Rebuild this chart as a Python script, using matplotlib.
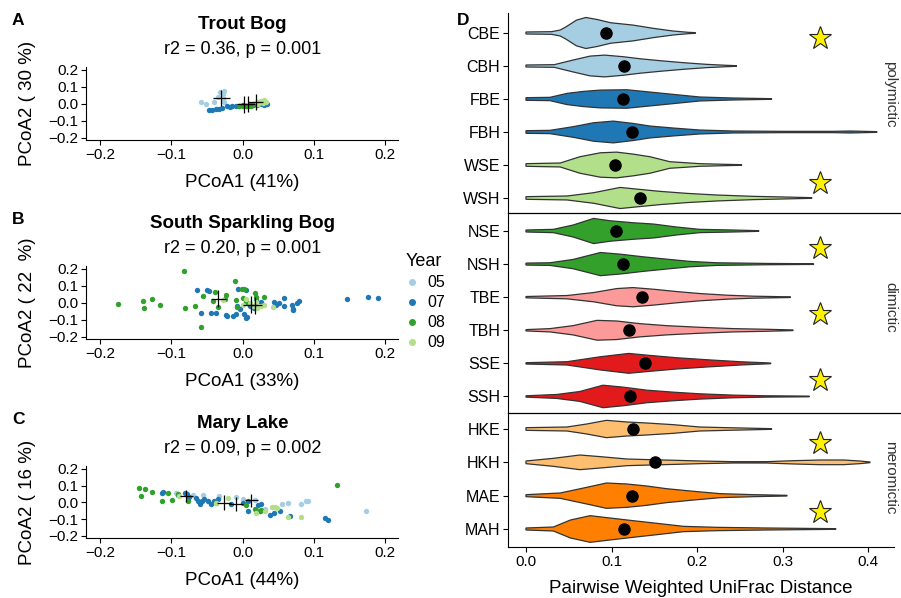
import numpy as np
import matplotlib
matplotlib.use('Agg')
import matplotlib.pyplot as plt
from matplotlib.lines import Line2D

plt.rcParams['font.family'] = ['Liberation Sans', 'DejaVu Sans']

W, H = 901, 598

# ---------------- PCoA data (panels A-C) ----------------
years = ['05', '07', '08', '09']
year_colors = ['#A6CEE3', '#1F78B4', '#33A02C', '#B2DF8A']

trout_05 = [(-0.059, 0.013), (-0.051, 0.0), (-0.041, 0.008), (-0.034, 0.043), (-0.032, 0.072),
            (-0.028, 0.06), (-0.027, 0.035), (-0.026, 0.078), (-0.026, 0.008)]
trout_07 = [(-0.048, -0.035), (-0.043, -0.035), (-0.038, -0.033), (-0.033, -0.03), (-0.029, -0.025),
            (-0.022, -0.015), (-0.018, -0.02), (-0.015, -0.01), (-0.01, -0.012), (-0.005, -0.01),
            (0.0, -0.008), (0.005, -0.01), (0.008, -0.015), (0.01, -0.005), (0.015, -0.008),
            (0.02, -0.005), (0.025, -0.003), (0.03, -0.005), (0.034, 0.0)]
trout_08 = [(-0.005, -0.012), (0.0, -0.01), (0.005, -0.014), (0.01, -0.006), (0.012, -0.012),
            (0.015, 0.0), (0.02, 0.005)]
trout_09 = [(0.02, 0.01), (0.025, 0.017), (0.03, 0.022), (0.033, 0.012), (0.028, 0.005), (0.022, 0.0)]
trout_cross_x = [-0.030, 0.002, 0.007, 0.018]
trout_cross_y = [0.035, -0.003, -0.003, 0.012]
trout_cross_xerr = [0.012, 0.0105, 0.0105, 0.0105]
trout_cross_yerr = [0.049, 0.049, 0.047, 0.047]

sparkling_05 = []
sparkling_07 = [(-0.064, 0.073), (-0.050, 0.073), (-0.047, 0.071), (-0.059, -0.059), (-0.044, -0.059),
                (-0.037, -0.059), (-0.024, -0.071), (-0.022, -0.078), (-0.013, -0.08), (-0.010, -0.065),
                (-0.006, 0.083), (0.005, 0.077), (-0.004, -0.036), (-0.008, -0.016), (0.002, -0.065),
                (0.004, -0.09), (0.006, -0.086), (0.010, -0.016), (0.016, -0.032), (0.019, 0.014),
                (0.026, 0.004), (0.044, 0.004), (0.047, -0.012), (0.051, -0.002), (0.058, 0.027),
                (0.058, -0.02), (0.069, -0.012), (0.070, -0.036), (0.071, -0.042), (0.079, 0.01),
                (0.076, -0.002), (0.147, 0.021), (0.176, 0.035), (0.190, 0.027)]
sparkling_08 = [(-0.175, -0.004), (-0.140, 0.008), (-0.139, -0.032), (-0.128, 0.02), (-0.116, -0.012),
                (-0.082, 0.187), (-0.081, -0.032), (-0.067, -0.016), (-0.059, -0.144), (-0.056, 0.039),
                (-0.039, 0.063), (-0.042, 0.008), (-0.035, -0.026), (-0.025, 0.024), (-0.023, 0.047),
                (-0.011, 0.128), (-0.009, 0.018), (-0.001, 0.083), (0.0, 0.027), (0.017, 0.057),
                (0.018, 0.033), (0.030, 0.037), (-0.008, -0.026), (0.005, 0.004), (0.002, 0.08)]
sparkling_09 = [(-0.027, 0.014), (0.0, -0.01), (0.01, 0.0), (0.015, -0.02), (0.02, -0.03),
                (0.025, -0.02), (0.005, 0.02), (0.043, -0.027), (0.018, 0.005), (0.03, -0.01)]
sparkling_cross_x = [0.011, -0.034, 0.017]
sparkling_cross_y = [-0.010, 0.024, -0.015]
sparkling_cross_xerr = [0.0105, 0.0105, 0.0105]
sparkling_cross_yerr = [0.049, 0.049, 0.049]

mary_05 = [(-0.093, 0.057), (-0.070, 0.045), (-0.056, 0.044), (-0.033, 0.038), (-0.010, 0.031),
           (0.0, 0.02), (0.017, 0.015), (0.031, -0.040), (0.055, -0.007), (0.064, -0.005),
           (0.082, -0.009), (0.089, 0.009), (0.092, 0.005), (0.173, -0.052)]
mary_07 = [(-0.114, 0.054), (-0.112, 0.062), (-0.091, 0.044), (-0.081, 0.057), (-0.078, 0.049),
           (-0.075, 0.030), (-0.065, 0.024), (-0.063, 0.005), (-0.060, -0.010), (-0.057, 0.005),
           (-0.054, 0.018), (-0.049, 0.005), (-0.045, -0.009), (-0.041, 0.005), (-0.035, 0.018),
           (-0.017, -0.011), (0.001, -0.005), (0.008, 0.005), (0.008, -0.054), (0.022, -0.015),
           (0.026, -0.009), (0.024, -0.054), (0.038, -0.074), (0.044, -0.064), (0.052, -0.050),
           (0.066, -0.080), (0.115, -0.095), (0.120, -0.103)]
mary_08 = [(-0.146, 0.087), (-0.137, 0.078), (-0.128, 0.064), (-0.143, 0.038), (-0.105, 0.054),
           (-0.114, 0.007), (-0.099, 0.011), (-0.091, 0.048), (-0.077, 0.005), (-0.038, -0.005),
           (0.005, -0.015), (0.017, -0.04), (0.018, -0.048), (0.026, -0.045), (0.132, 0.103)]
mary_09 = [(-0.090, 0.038), (-0.037, -0.005), (-0.020, 0.024), (0.019, -0.064), (0.031, -0.054),
           (0.041, -0.028), (0.045, -0.030), (0.048, -0.035), (0.064, -0.087), (0.082, -0.087)]
mary_cross_x = [-0.079, -0.026, -0.0096, 0.012]
mary_cross_y = [0.038, -0.001, -0.011, 0.011]
mary_cross_xerr = [0.0094, 0.0094, 0.0094, 0.0094]
mary_cross_yerr = [0.036, 0.042, 0.042, 0.040]

pcoa_ticks = [-0.2, -0.1, 0.0, 0.1, 0.2]
pcoa_ticklabels = ['\u22120.2', '\u22120.1', '0.0', '0.1', '0.2']

# ---------------- Violin data (panel D) ----------------
# (distance, half width in category units)
CBE = [(0.000, 0.03), (0.030, 0.04), (0.040, 0.09), (0.047, 0.19), (0.059, 0.39), (0.070, 0.47),
       (0.083, 0.41), (0.099, 0.31), (0.125, 0.24), (0.149, 0.14), (0.172, 0.06), (0.190, 0.02), (0.198, 0.01)]
CBH = [(0.000, 0.03), (0.033, 0.04), (0.055, 0.18), (0.075, 0.30), (0.092, 0.33), (0.114, 0.28),
       (0.133, 0.22), (0.157, 0.16), (0.184, 0.10), (0.211, 0.05), (0.235, 0.02), (0.246, 0.01)]
FBE = [(0.000, 0.04), (0.028, 0.05), (0.048, 0.17), (0.067, 0.23), (0.087, 0.27), (0.118, 0.28),
       (0.145, 0.21), (0.176, 0.13), (0.203, 0.06), (0.242, 0.03), (0.287, 0.01)]
FBH = [(0.000, 0.04), (0.028, 0.05), (0.055, 0.16), (0.079, 0.28), (0.102, 0.33), (0.125, 0.26),
       (0.145, 0.18), (0.172, 0.12), (0.203, 0.06), (0.242, 0.03), (0.300, 0.02), (0.359, 0.02),
       (0.379, 0.03), (0.395, 0.02), (0.410, 0.01)]
WSE = [(0.000, 0.04), (0.040, 0.06), (0.063, 0.25), (0.087, 0.37), (0.106, 0.39), (0.125, 0.33),
       (0.145, 0.25), (0.168, 0.10), (0.203, 0.04), (0.233, 0.02), (0.252, 0.01)]
WSH = [(0.000, 0.04), (0.048, 0.06), (0.079, 0.16), (0.110, 0.32), (0.133, 0.26), (0.157, 0.20),
       (0.188, 0.14), (0.223, 0.09), (0.266, 0.05), (0.301, 0.03), (0.334, 0.01)]
NSE = [(0.000, 0.03), (0.032, 0.05), (0.055, 0.18), (0.079, 0.38), (0.098, 0.31), (0.125, 0.25),
       (0.149, 0.21), (0.176, 0.12), (0.203, 0.05), (0.242, 0.03), (0.272, 0.01)]
NSH = [(0.000, 0.03), (0.028, 0.04), (0.055, 0.14), (0.087, 0.35), (0.110, 0.30), (0.137, 0.22),
       (0.164, 0.15), (0.192, 0.08), (0.223, 0.04), (0.281, 0.02), (0.336, 0.01)]
TBE = [(0.000, 0.02), (0.048, 0.05), (0.079, 0.14), (0.106, 0.26), (0.125, 0.29), (0.149, 0.24),
       (0.176, 0.17), (0.203, 0.11), (0.235, 0.06), (0.266, 0.03), (0.309, 0.01)]
TBH = [(0.000, 0.02), (0.028, 0.05), (0.055, 0.14), (0.083, 0.30), (0.106, 0.28), (0.133, 0.20),
       (0.164, 0.14), (0.203, 0.09), (0.242, 0.05), (0.281, 0.03), (0.312, 0.01)]
SSE = [(0.000, 0.02), (0.048, 0.05), (0.087, 0.20), (0.120, 0.30), (0.145, 0.24), (0.176, 0.17),
       (0.211, 0.11), (0.250, 0.05), (0.286, 0.01)]
SSH = [(0.000, 0.02), (0.036, 0.06), (0.063, 0.15), (0.090, 0.34), (0.114, 0.28), (0.141, 0.19),
       (0.172, 0.13), (0.203, 0.08), (0.242, 0.04), (0.281, 0.02), (0.331, 0.01)]
HKE = [(0.000, 0.04), (0.048, 0.06), (0.071, 0.15), (0.094, 0.26), (0.118, 0.21), (0.141, 0.18),
       (0.172, 0.13), (0.203, 0.06), (0.235, 0.04), (0.287, 0.01)]
HKH = [(0.000, 0.04), (0.032, 0.12), (0.063, 0.22), (0.087, 0.17), (0.118, 0.10), (0.145, 0.08),
       (0.176, 0.06), (0.203, 0.04), (0.242, 0.02), (0.281, 0.02), (0.313, 0.05), (0.344, 0.07),
       (0.371, 0.07), (0.390, 0.04), (0.402, 0.01)]
MAE = [(0.000, 0.03), (0.040, 0.08), (0.071, 0.25), (0.094, 0.38), (0.118, 0.35), (0.141, 0.29),
       (0.164, 0.21), (0.196, 0.13), (0.227, 0.06), (0.266, 0.03), (0.305, 0.01)]
MAH = [(0.000, 0.03), (0.032, 0.06), (0.052, 0.27), (0.075, 0.40), (0.098, 0.33), (0.125, 0.25),
       (0.153, 0.17), (0.184, 0.08), (0.223, 0.05), (0.281, 0.03), (0.362, 0.01)]

poly_cats = ['CBE', 'CBH', 'FBE', 'FBH', 'WSE', 'WSH']
dimi_cats = ['NSE', 'NSH', 'TBE', 'TBH', 'SSE', 'SSH']
mero_cats = ['HKE', 'HKH', 'MAE', 'MAH']
profiles = {'CBE': CBE, 'CBH': CBH, 'FBE': FBE, 'FBH': FBH, 'WSE': WSE, 'WSH': WSH,
            'NSE': NSE, 'NSH': NSH, 'TBE': TBE, 'TBH': TBH, 'SSE': SSE, 'SSH': SSH,
            'HKE': HKE, 'HKH': HKH, 'MAE': MAE, 'MAH': MAH}
means = {'CBE': 0.093, 'CBH': 0.114, 'FBE': 0.113, 'FBH': 0.124, 'WSE': 0.104, 'WSH': 0.133,
         'NSE': 0.105, 'NSH': 0.113, 'TBE': 0.136, 'TBH': 0.120, 'SSE': 0.139, 'SSH': 0.122,
         'HKE': 0.125, 'HKH': 0.151, 'MAE': 0.124, 'MAH': 0.115}
lake_colors = {'CB': '#A6CEE3', 'FB': '#1F78B4', 'WS': '#B2DF8A', 'NS': '#33A02C',
               'TB': '#FB9A99', 'SS': '#E31A1C', 'HK': '#FDBF6F', 'MA': '#FF7F00'}
star_x = 0.343
poly_stars = [1.15, 5.55]
dimi_stars = [1.5, 3.5, 5.5]
mero_stars = [1.42, 3.5]

fig = plt.figure(figsize=(W / 100, H / 100), dpi=100)


def rect(left, top, right, bottom):
    return [left / W, 1 - bottom / H, (right - left) / W, (bottom - top) / H]


def pcoa_panel(top, bottom, letter, title, stats, xlab, ylab, points, cx, cy, ex, ey):
    ax = fig.add_axes(rect(86, top, 398, bottom))
    for pts, c in zip(points, year_colors):
        if pts:
            p = np.array(pts)
            ax.scatter(p[:, 0], p[:, 1], s=15, color=c, lw=0, zorder=2)
    ax.errorbar(cx, cy, xerr=ex, yerr=ey, fmt='none', ecolor='black', elinewidth=0.9,
                capsize=0, zorder=3)
    ax.set_xlim(-0.22, 0.218)
    ax.set_ylim(-0.213, 0.217)
    ax.set_xticks(pcoa_ticks)
    ax.set_xticklabels(pcoa_ticklabels)
    ax.set_yticks(pcoa_ticks)
    ax.set_yticklabels(pcoa_ticklabels)
    ax.spines[['top', 'right']].set_visible(False)
    ax.tick_params(labelsize=11, length=3.5, width=0.8, pad=2, colors='black')
    mid = (87 + 398) / 2
    fig.text(mid / W, 1 - (top - 38) / H, title, ha='center', va='baseline',
             fontsize=13.5, fontweight='bold')
    fig.text(mid / W, 1 - (top - 13) / H, stats, ha='center', va='baseline', fontsize=13)
    fig.text(mid / W, 1 - (bottom + 47) / H, xlab, ha='center', va='baseline', fontsize=13.5)
    fig.text(28 / W, 1 - ((top + bottom) / 2) / H, ylab, ha='center', va='center',
             rotation=90, fontsize=13.5)
    fig.text(12 / W, 1 - (top - 42) / H, letter, ha='left', va='baseline',
             fontsize=12.5, fontweight='bold')
    return ax


pcoa_panel(67, 140, 'A', 'Trout Bog', 'r2 = 0.36, p = 0.001', 'PCoA1 (41%)', 'PCoA2 ( 30 %)',
           [trout_05, trout_07, trout_08, trout_09],
           trout_cross_x, trout_cross_y, trout_cross_xerr, trout_cross_yerr)
pcoa_panel(266, 339, 'B', 'South Sparkling Bog', 'r2 = 0.20, p = 0.001', 'PCoA1 (33%)',
           'PCoA2 ( 22  %)',
           [sparkling_05, sparkling_07, sparkling_08, sparkling_09],
           sparkling_cross_x, sparkling_cross_y, sparkling_cross_xerr, sparkling_cross_yerr)
pcoa_panel(466, 538, 'C', 'Mary Lake', 'r2 = 0.09, p = 0.002', 'PCoA1 (44%)', 'PCoA2 ( 16 %)',
           [mary_05, mary_07, mary_08, mary_09],
           mary_cross_x, mary_cross_y, mary_cross_xerr, mary_cross_yerr)

handles = [Line2D([], [], marker='o', ls='', color=c, markersize=4) for c in year_colors]
fig.legend(handles, years, title='Year', loc='upper left',
           bbox_to_anchor=(406 / W, 1 - 253 / H), frameon=False, fontsize=11.5,
           title_fontsize=13, handlelength=0.8, handletextpad=0.55, labelspacing=0.32,
           alignment='left', borderpad=0, borderaxespad=0)

# ---------------- Panel D ----------------
facets = [('polymictic', poly_cats, 13, 213, (6.455, 0.394), poly_stars, 94),
          ('dimictic', dimi_cats, 213, 413, (6.5, 0.456), dimi_stars, 307.5),
          ('meromictic', mero_cats, 413, 547, (4.54, 0.52), mero_stars, 478)]

for k, (name, cats, top, bottom, ylim, stars, label_y) in enumerate(facets):
    ax = fig.add_axes(rect(508, top, 894, bottom))
    for i, cat in enumerate(cats, start=1):
        p = np.array(profiles[cat])
        xs, ws = p[:, 0], p[:, 1]
        ax.fill(np.r_[xs, xs[::-1]], np.r_[i - ws, (i + ws)[::-1]],
                facecolor=lake_colors[cat[:2]], edgecolor='#333333', lw=0.9, zorder=2)
        ax.plot(means[cat], i, 'o', color='black', markersize=8, zorder=3)
    ax.plot([star_x] * len(stars), stars, marker='*', ls='', markersize=17,
            markerfacecolor='#FFF200', markeredgecolor='#222222', markeredgewidth=0.8, zorder=3)
    ax.set_xlim(-0.021, 0.430)
    ax.set_ylim(*ylim)
    ax.set_yticks(range(1, len(cats) + 1))
    ax.set_yticklabels(cats)
    ax.spines[['top', 'right']].set_visible(False)
    ax.tick_params(axis='y', labelsize=11.5, length=3.5, width=0.8, pad=2)
    if k < 2:
        ax.spines['bottom'].set_visible(False)
        ax.tick_params(axis='x', bottom=False, labelbottom=False)
    else:
        ax.set_xticks([0.0, 0.1, 0.2, 0.3, 0.4])
        ax.set_xticklabels(['0.0', '0.1', '0.2', '0.3', '0.4'])
        ax.tick_params(axis='x', labelsize=11, length=3.5, width=0.8, pad=2)
    fig.text(890 / W, 1 - label_y / H, name, rotation=-90, ha='center', va='center',
             fontsize=11, color='#333333')
    if k > 0:
        fig.add_artist(Line2D([508 / W, 1.0], [1 - top / H, 1 - top / H], color='black', lw=0.9))

fig.text(701 / W, 1 - 593 / H, 'Pairwise Weighted UniFrac Distance', ha='center', va='baseline',
         fontsize=13.5)
fig.text(457 / W, 1 - 25 / H, 'D', ha='left', va='baseline', fontsize=12.5, fontweight='bold')

fig.savefig('out.png', dpi=100)
